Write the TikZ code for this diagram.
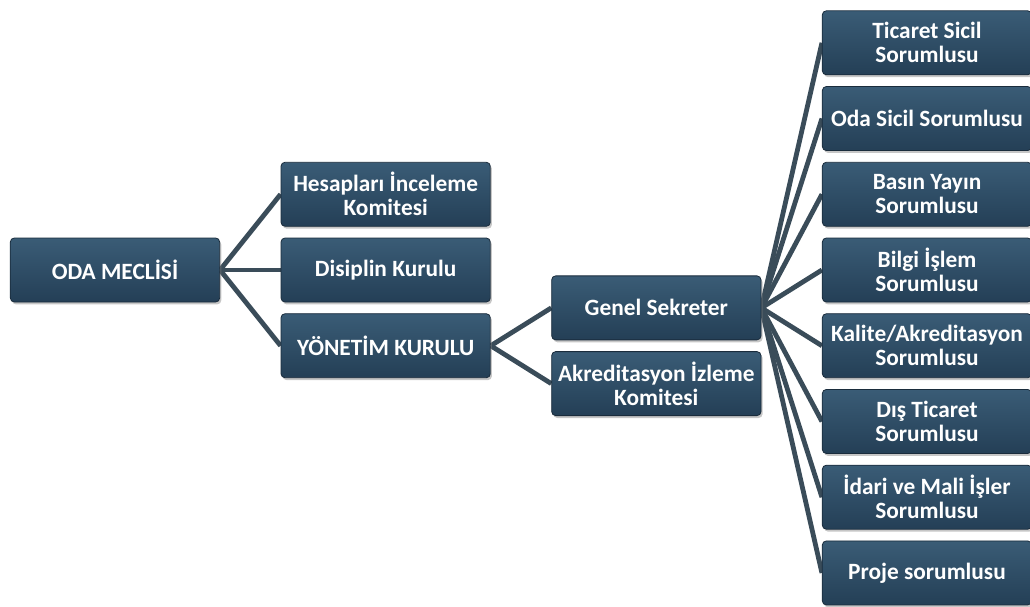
\documentclass[tikz,border=0pt]{standalone}
\usepackage{fontspec}
\setmainfont{Carlito}
\usetikzlibrary{positioning,shadows,backgrounds}
\definecolor{boxtop}{RGB}{58,92,118}
\definecolor{boxbot}{RGB}{36,63,86}
\definecolor{boxedge}{RGB}{26,44,60}
\definecolor{linkcol}{RGB}{58,76,89}
\begin{document}
\begin{tikzpicture}[x=0.75pt, y=-0.75pt,
        main/.style = {rounded corners=3pt, top color=boxtop, bottom color=boxbot, draw=boxedge, line width=0.6pt,
            minimum width=157pt, minimum height=48pt, inner sep=1pt, align=center, text=white,
            font=\fontsize{17.5}{18}\selectfont\bfseries,
            drop shadow={opacity=0.45, shadow xshift=1.2pt, shadow yshift=-1.8pt}},
        link/.style = {draw=linkcol, line width=3.6pt},
        on grid, node distance=56.8pt and 203pt]
        \useasboundingbox (0,0) rectangle (1030,606);
        \node[main] (0) at (115,270) {ODA MECLİSİ};
        \node[main] (1) [above right=of 0] {Hesapları İnceleme\\Komitesi};
        \node[main] (2) [right=of 0] {Disiplin Kurulu};
        \node[main] (3) [below right=of 0] {YÖNETİM KURULU};
        \node[main] (4) [below right=28.4pt and 203pt of 2] {Genel Sekreter};
        \node[main] (5) [below=of 4] {Akreditasyon İzleme\\Komitesi};
        \node[main] (9) [above right=28.4pt and 203pt of 4] {Bilgi İşlem\\Sorumlusu};
        \node[main] (8) [above=of 9] {Basın Yayın\\Sorumlusu};
        \node[main] (7) [above=of 8] {Oda Sicil Sorumlusu};
        \node[main] (6) [above=of 7] {Ticaret Sicil\\Sorumlusu};
        \node[main] (10) [below=of 9] {Kalite/Akreditasyon\\Sorumlusu};
        \node[main] (11) [below=of 10] {Dış Ticaret\\Sorumlusu};
        \node[main] (12) [below=of 11] {İdari ve Mali İşler\\Sorumlusu};
        \node[main] (13) [below=of 12] {Proje sorumlusu};
        \begin{scope}[on background layer]
            \draw[link] (0.east) -- (1.west);
            \draw[link] (0.east) -- (2.west);
            \draw[link] (0.east) -- (3.west);
            \draw[link] (3.east) -- (4.west);
            \draw[link] (3.east) -- (5.west);
            \draw[link] (4.east) -- (6.west);
            \draw[link] (4.east) -- (7.west);
            \draw[link] (4.east) -- (8.west);
            \draw[link] (4.east) -- (9.west);
            \draw[link] (4.east) -- (10.west);
            \draw[link] (4.east) -- (11.west);
            \draw[link] (4.east) -- (12.west);
            \draw[link] (4.east) -- (13.west);
        \end{scope}
    \end{tikzpicture}
\end{document}
